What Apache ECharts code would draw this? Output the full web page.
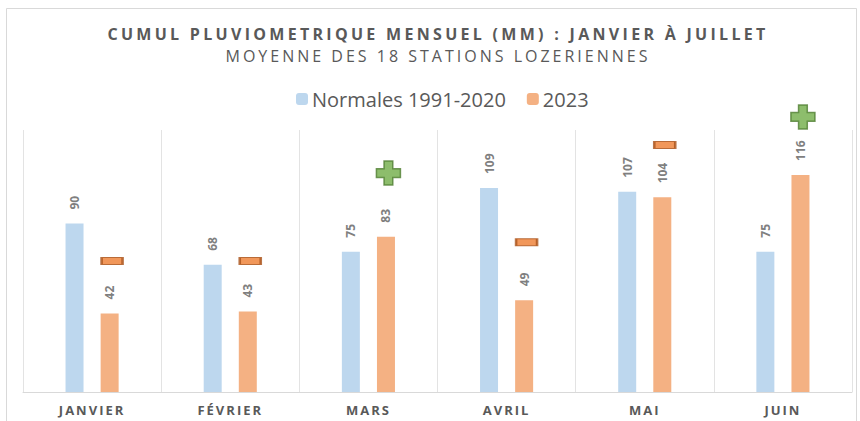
<!DOCTYPE html>
<html>
<head>
<meta charset="utf-8">
<script src="https://cdn.jsdelivr.net/npm/echarts@6/dist/echarts.min.js"></script>
<style>
  html, body { margin: 0; padding: 0; background: #fff; }
  #chart { width: 860px; height: 421px; }
</style>
</head>
<body>
<div id="chart"></div>
<script>
// mois
const months = ["JANVIER", "FÉVRIER", "MARS", "AVRIL", "MAI", "JUIN"];
// normales 1991-2020 (mm)
const normales = [90, 68, 75, 109, 107, 75];
// 2023 (mm)
const annee2023 = [42, 43, 83, 49, 104, 116];
// position (en mm) des signes + / - au-dessus des barres 2023
const signLevel = [70, 70, 117, 80, 132, 147];
const signType = ["moins", "moins", "plus", "moins", "moins", "plus"];

const titre = "CUMUL PLUVIOMETRIQUE MENSUEL (MM) : JANVIER À JUILLET";
const sousTitre = "MOYENNE DES 18 STATIONS LOZERIENNES";

// espacement des lettres (titres et mois, comme dans Excel)
const spacing = {};
spacing[titre] = 3.3;
spacing[sousTitre] = 3;
months.forEach((m) => (spacing[m] = 2));

const plusPath = "path://M3.5,0 H7.5 V3.5 H11 V7.5 H7.5 V11 H3.5 V7.5 H0 V3.5 H3.5 Z";

const dom = document.getElementById("chart");
const chart = echarts.init(dom, null, { renderer: "svg" });

function applySpacing() {
  dom.querySelectorAll("text").forEach((el) => {
    const ls = spacing[el.textContent];
    if (ls) {
      el.style.letterSpacing = ls + "px";
    }
  });
}
chart.on("finished", applySpacing);

const labelStyle = {
  show: true,
  position: "top",
  rotate: 90,
  align: "left",
  verticalAlign: "middle",
  distance: 14,
  color: "#7f7f7f",
  fontSize: 12,
  fontWeight: "bold",
  fontFamily: "Open Sans",
};

const option = {
  animation: false,
  title: {
    text: titre,
    subtext: sousTitre,
    left: 433,
    textAlign: "center",
    top: 21,
    itemGap: 6,
    textStyle: { fontFamily: "Open Sans", fontSize: 16, fontWeight: "bold", color: "#595959" },
    subtextStyle: { fontFamily: "Open Sans", fontSize: 16, color: "#595959" },
  },
  legend: {
    top: 84,
    left: 291,
    itemWidth: 12,
    itemHeight: 12,
    itemGap: 21,
    data: ["Normales 1991-2020", "2023"],
    textStyle: { fontFamily: "Open Sans", fontSize: 20, color: "#595959", padding: [0, 0, 0, -1] },
  },
  grid: { left: 23, right: 8, top: 130, bottom: 29 },
  xAxis: {
    type: "category",
    data: months,
    axisLine: { lineStyle: { color: "#d9d9d9" } },
    axisTick: { show: false },
    splitLine: { show: true, lineStyle: { color: "#e3e3e3" } },
    axisLabel: {
      margin: 11,
      color: "#595959",
      fontFamily: "Open Sans",
      fontSize: 13,
      fontWeight: "bold",
    },
  },
  yAxis: { type: "value", min: 0, max: 140, show: false, splitLine: { show: false } },
  graphic: [
    {
      type: "rect",
      shape: { x: 6.5, y: 8.5, width: 850, height: 420 },
      style: { fill: "none", stroke: "#d9d9d9", lineWidth: 1 },
      z: -1,
    },
  ],
  series: [
    {
      name: "Normales 1991-2020",
      type: "bar",
      data: normales,
      barWidth: 18,
      barGap: "95%",
      itemStyle: { color: "#bdd7ee" },
      label: labelStyle,
    },
    {
      name: "2023",
      type: "bar",
      data: annee2023,
      barWidth: 18,
      itemStyle: { color: "#f4b183" },
      label: labelStyle,
    },
    {
      name: "signes",
      type: "scatter",
      clip: false,
      silent: true,
      data: signLevel.map((v, i) =>
        signType[i] === "plus"
          ? { value: [months[i], v], symbol: plusPath, symbolSize: [24, 24],
              itemStyle: { color: "#70ad47", borderColor: "#507e32", borderWidth: 1.5 } }
          : { value: [months[i], v], symbol: "rect", symbolSize: [21, 7],
              itemStyle: { color: "#ed7d31", borderColor: "#a9531a", borderWidth: 1.5 } }
      ),
      symbolOffset: [20, 0],
    },
  ],
};

chart.setOption(option);
applySpacing();
setTimeout(applySpacing, 50);
</script>
</body>
</html>
